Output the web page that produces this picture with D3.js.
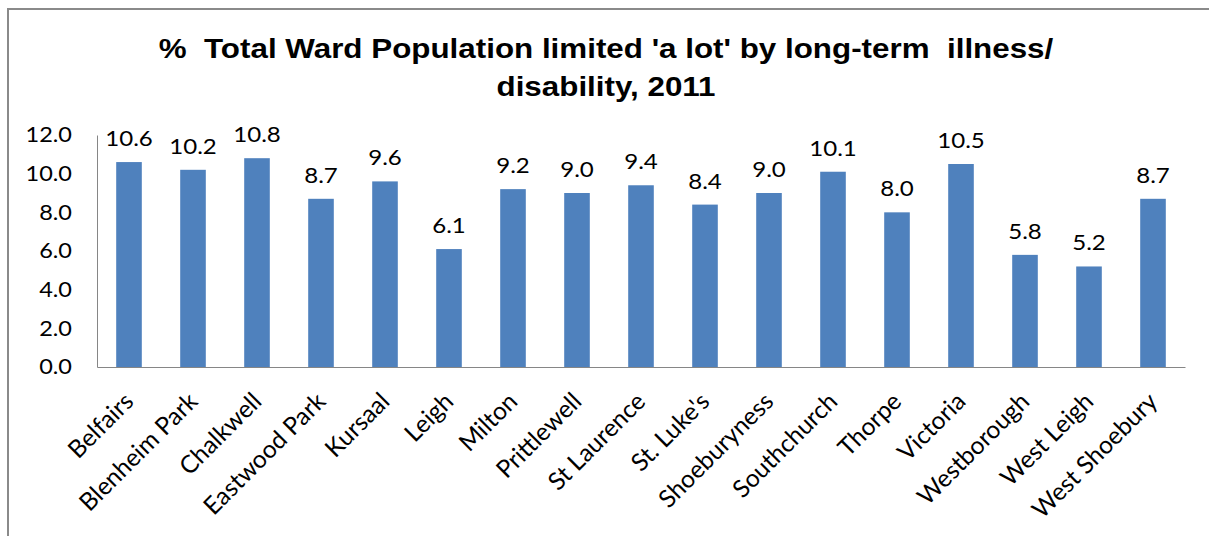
<!DOCTYPE html>
<html>
<head>
<meta charset="utf-8">
<script src="https://cdn.jsdelivr.net/npm/d3@7"></script>
<style>
  body { margin: 0; background: #fff; }
  svg { display: block; }
</style>
</head>
<body>
<div id="wrapper"></div>
<script>
// data
const wards = ['Belfairs', 'Blenheim Park', 'Chalkwell', 'Eastwood Park', 'Kursaal', 'Leigh',
  'Milton', 'Prittlewell', 'St Laurence', "St. Luke's", 'Shoeburyness', 'Southchurch',
  'Thorpe', 'Victoria', 'Westborough', 'West Leigh', 'West Shoebury']
const pctLimitedALot = [10.6, 10.2, 10.8, 8.7, 9.6, 6.1, 9.2, 9.0, 9.4, 8.4, 9.0, 10.1, 8.0, 10.5, 5.8, 5.2, 8.7]
const yTicks = [0, 2, 4, 6, 8, 10, 12]
const titleLines = ["%  Total Ward Population limited 'a lot' by long-term  illness/", 'disability, 2011']

const dataset = wards.map((w, i) => ({ ward: w, value: pctLimitedALot[i] }))

const width = 1209
const height = 536
let dimensions = {
  width: width,
  height: height,
  margin: { top: 135, right: 24, bottom: 169, left: 97 },
}
dimensions.boundedWidth = dimensions.width - dimensions.margin.left - dimensions.margin.right
dimensions.boundedHeight = dimensions.height - dimensions.margin.top - dimensions.margin.bottom

// source picture is a bit stretched sideways
const stretch = 1.12

const wrapper = d3.select('#wrapper').append('svg')
  .attr('width', dimensions.width)
  .attr('height', dimensions.height)

// chart frame (only left + top visible in the crop)
wrapper.append('rect')
  .attr('x', 8).attr('y', 9)
  .attr('width', 1300).attr('height', 700)
  .attr('fill', 'none')
  .attr('stroke', '#8a8a8a')
  .attr('stroke-width', 2)

const title = wrapper.append('text')
  .attr('text-anchor', 'middle')
  .attr('transform', `translate(606, 0) scale(${stretch}, 1)`)
  .style('font-family', '"Liberation Sans", Arial, sans-serif')
  .style('font-weight', 'bold')
  .style('font-size', '28px')
  .attr('fill', '#000')
  .style('white-space', 'pre')
title.selectAll('tspan')
  .data(titleLines)
  .enter()
  .append('tspan')
  .attr('x', 0)
  .attr('y', (d, i) => 58 + i * 38)
  .text((d) => d)

const bounds = wrapper.append('g')
  .attr('transform', `translate(${dimensions.margin.left}, ${dimensions.margin.top})`)

const xScale = d3.scaleBand()
  .domain(wards)
  .range([0, dimensions.boundedWidth])
  .paddingInner(0.6)
  .paddingOuter(0.3)

const yScale = d3.scaleLinear()
  .domain([0, 12])
  .range([dimensions.boundedHeight, 0])

const labelFont = 'Lato, Carlito, Calibri, sans-serif'

// y axis
const yAxisGenerator = d3.axisLeft(yScale)
  .tickValues(yTicks)
  .tickFormat('')
  .tickSize(0)
const yAxis = bounds.append('g').call(yAxisGenerator)
yAxis.select('.domain').attr('stroke', '#868686')

bounds.append('g')
  .selectAll('text')
  .data(yTicks)
  .enter()
  .append('text')
  .attr('transform', (d) => `translate(-25, ${yScale(d)}) scale(${stretch}, 1)`)
  .attr('text-anchor', 'end')
  .attr('dy', '0.35em')
  .style('font-family', labelFont)
  .style('font-size', '21px')
  .attr('fill', '#000')
  .text((d) => d3.format('.1f')(d))

// bars
bounds.append('g')
  .selectAll('rect')
  .data(dataset)
  .enter()
  .append('rect')
  .attr('x', (d) => xScale(d.ward))
  .attr('y', (d) => yScale(d.value))
  .attr('width', xScale.bandwidth())
  .attr('height', (d) => dimensions.boundedHeight - yScale(d.value))
  .attr('fill', '#4f81bd')

// value labels
bounds.append('g')
  .selectAll('text')
  .data(dataset)
  .enter()
  .append('text')
  .attr('transform', (d) =>
    `translate(${xScale(d.ward) + xScale.bandwidth() / 2}, ${yScale(d.value) - 16}) scale(${stretch}, 1)`)
  .attr('text-anchor', 'middle')
  .style('font-family', labelFont)
  .style('font-size', '21.5px')
  .attr('fill', '#000')
  .text((d) => d3.format('.1f')(d.value))

// x axis
const xAxisGenerator = d3.axisBottom(xScale).tickSize(0).tickFormat('')
const xAxis = bounds.append('g')
  .attr('transform', `translate(0, ${dimensions.boundedHeight})`)
  .call(xAxisGenerator)
xAxis.select('.domain').attr('stroke', '#868686')

// rotated category labels
bounds.append('g')
  .selectAll('text')
  .data(wards)
  .enter()
  .append('text')
  .attr('transform', (d) =>
    `translate(${xScale(d) + xScale.bandwidth() / 2 + 6}, ${dimensions.boundedHeight + 36}) rotate(-45)`)
  .attr('text-anchor', 'end')
  .style('font-family', labelFont)
  .style('font-size', '24.5px')
  .attr('fill', '#000')
  .text((d) => d)
</script>
</body>
</html>
